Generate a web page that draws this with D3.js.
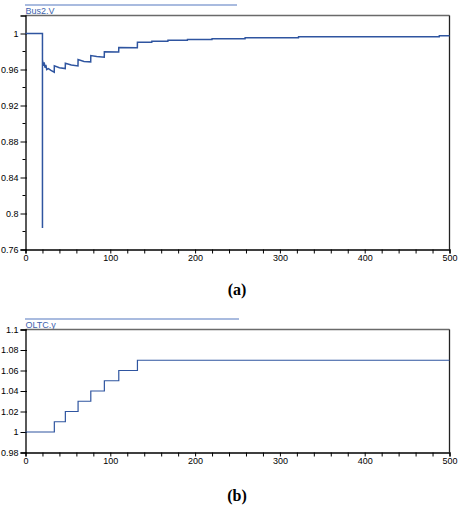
<!DOCTYPE html>
<html><head><meta charset="utf-8">
<script src="https://cdn.jsdelivr.net/npm/d3@7"></script>
<style>body{margin:0;background:#fff}svg{display:block}</style>
</head><body>
<script>
// ---- Data ----
const voltTimes  = [0, 20, 20, 20, 21, 22, 23, 24, 25, 27, 30, 33.9, 34, 40, 46.9, 47, 54, 61.9, 62, 69, 76.9, 77, 84, 92.9, 93, 109.9, 110, 131.9, 132, 148.9, 149, 167.9, 168, 190.9, 191, 219.9, 220, 258.9, 259, 321.9, 322, 487.9, 488, 500];
const voltValues = [1, 1, 0.784, 0.971, 0.964, 0.968, 0.962, 0.965, 0.960, 0.961, 0.959, 0.957, 0.964, 0.962, 0.961, 0.967, 0.965, 0.964, 0.971, 0.969, 0.9685, 0.9755, 0.9745, 0.9737, 0.9797, 0.9795, 0.9845, 0.9843, 0.9903, 0.9903, 0.9914, 0.9914, 0.9926, 0.9926, 0.9933, 0.9933, 0.9941, 0.9941, 0.9952, 0.9952, 0.9963, 0.9963, 0.9974, 0.9974];
const oltcTimes  = [0, 34, 47, 62, 77, 93, 110, 132, 500];
const oltcValues = [1.00, 1.01, 1.02, 1.03, 1.04, 1.05, 1.06, 1.07, 1.07];
const xTicks = [0, 100, 200, 300, 400, 500];
const yTicksA = [0.76, 0.8, 0.84, 0.88, 0.92, 0.96, 1];
const yTicksB = [0.98, 1, 1.02, 1.04, 1.06, 1.08, 1.1];

const W = 460, H = 506;
const svg = d3.select("body").append("svg").attr("width", W).attr("height", H);
const lineColor = "#2f55a0", legColor = "#5578c0";
const font = "Arial, 'Liberation Sans', sans-serif";

function panel(cfg) {
  const x = d3.scaleLinear().domain([0, 500]).range([25.5, 449.5]);
  const y = d3.scaleLinear().domain(cfg.yDomain).range([cfg.bottom, cfg.top]);
  const g = svg.append("g");
  // legend
  g.append("line").attr("x1", 25).attr("x2", cfg.legEnd).attr("y1", cfg.legY).attr("y2", cfg.legY)
    .attr("stroke", legColor).attr("stroke-width", 1.2);
  g.append("text").attr("x", 25.5).attr("y", cfg.top - 2).text(cfg.name)
    .attr("font-family", font).attr("font-size", 9).attr("fill", "#3d62ad");
  // frame top & right
  g.append("line").attr("x1", 25.5).attr("x2", 449.5).attr("y1", cfg.top).attr("y2", cfg.top)
    .attr("stroke", "#6a6a6a").attr("stroke-width", 1.3);
  g.append("line").attr("x1", 449.5).attr("x2", 449.5).attr("y1", cfg.top).attr("y2", cfg.bottom)
    .attr("stroke", "#222").attr("stroke-width", 1.3);
  // x axis
  const minorX = d3.range(0, 501, 20);
  const xa = g.append("g").attr("transform", `translate(0,${cfg.bottom})`);
  xa.call(d3.axisBottom(x).tickValues(minorX).tickSize(4).tickFormat(d => xTicks.includes(d) ? d : ""));
  xa.select(".domain").attr("stroke", "#000").attr("stroke-width", 1.3);
  xa.selectAll("text").attr("font-family", font).attr("font-size", 9).attr("dy", "0.55em").attr("fill", "#000");
  xa.selectAll(".tick line").attr("stroke", "#000");
  // y axis
  const ya = g.append("g").attr("transform", "translate(25.5,0)");
  ya.call(d3.axisLeft(y).tickValues(cfg.yTicks).tickSize(5).tickPadding(2).tickFormat(d3.format("")));
  ya.select(".domain").attr("stroke", "#000").attr("stroke-width", 1.3);
  ya.selectAll("text").attr("font-family", font).attr("font-size", 9).attr("fill", "#000");
  ya.selectAll(".tick line").attr("stroke", "#000").attr("x2", 1.5).attr("x1", -5);
  if (cfg.minorY) {
    ya.selectAll(".minor").data(cfg.minorY).enter().append("line")
      .attr("x1", -3).attr("x2", 0).attr("y1", d => y(d)).attr("y2", d => y(d)).attr("stroke", "#000");
  }
  // data line
  const pts = cfg.t.map((t, i) => [t, cfg.v[i]]);
  g.append("path").datum(pts)
    .attr("d", d3.line().x(d => x(d[0])).y(d => y(d[1])).curve(cfg.curve))
    .attr("fill", "none").attr("stroke", lineColor).attr("stroke-width", cfg.sw);
  // caption
  svg.append("text").attr("x", 237).attr("y", cfg.capY).attr("text-anchor", "middle")
    .attr("font-family", "'Liberation Serif', 'Times New Roman', serif").attr("font-weight", "bold")
    .attr("font-size", 16).text(cfg.caption);
}

panel({ name: "Bus2.V", yDomain: [0.76, 1.02], top: 15.5, bottom: 249.5, legY: 5, legEnd: 237,
  yTicks: yTicksA, minorY: [0.78, 0.82, 0.86, 0.90, 0.94, 0.98],
  t: voltTimes, v: voltValues, curve: d3.curveLinear, sw: 1.5, caption: "(a)", capY: 295 });
panel({ name: "OLTC.y", yDomain: [0.98, 1.1], top: 329.5, bottom: 452.5, legY: 319, legEnd: 239,
  yTicks: yTicksB, minorY: null,
  t: oltcTimes, v: oltcValues, curve: d3.curveStepAfter, sw: 1.2, caption: "(b)", capY: 501 });
</script>
</body></html>
